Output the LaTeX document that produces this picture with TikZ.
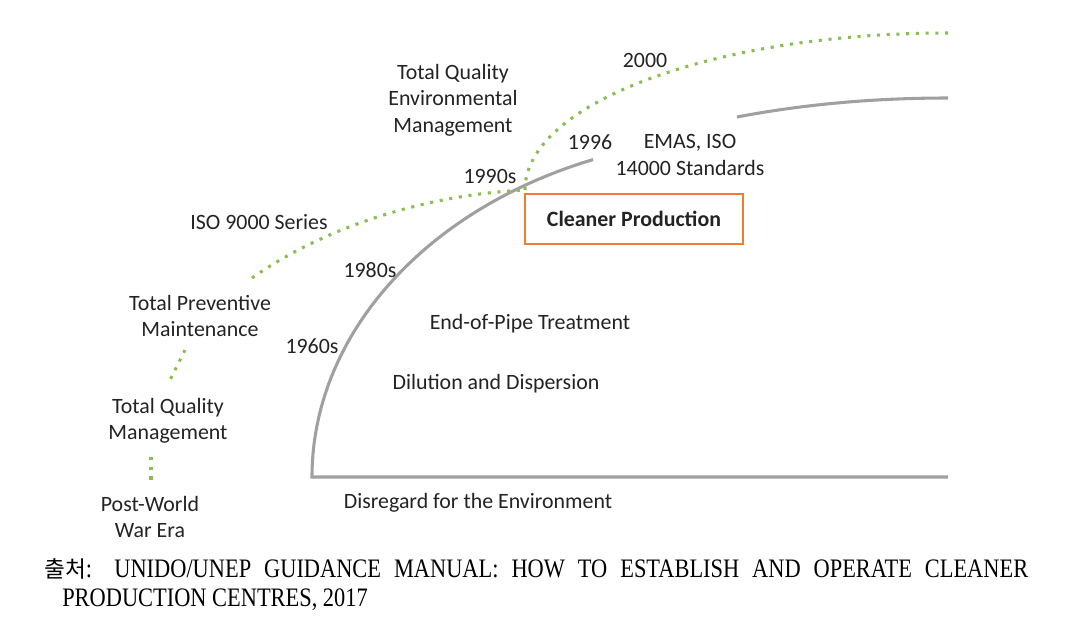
\documentclass[tikz,border=0pt]{standalone}
\usepackage{fontspec}
\setmainfont{Carlito}
\newfontfamily\capfont[FakeStretch=0.84]{Liberation Serif}
\newfontfamily\krfont{Noto Sans CJK KR}
\usepackage{tikz}
\usetikzlibrary{positioning}

\begin{document}
\begin{tikzpicture}[x=0.75pt, y=-0.75pt]
    \definecolor{linegray}{RGB}{160,160,160}
    \definecolor{dotgreen}{RGB}{137,190,80}
    \definecolor{boxorange}{RGB}{237,125,49}
    \definecolor{txtdark}{RGB}{35,35,35}
    \tikzset{
        lbl/.style={text=txtdark, font=\fontsize{16.4}{19.9}\selectfont, align=center, inner sep=0pt},
        greendots/.style={draw=dotgreen, line width=2.3pt, dash pattern=on 2.3pt off 5pt},
        grayline/.style={draw=linegray, line width=2.3pt}
    }
    \useasboundingbox (0,0) rectangle (1076,626);
    % environment curve and baseline
    \draw[grayline] (948,477) -- (312,477)
        arc[start angle=180, end angle=249, x radius=438, y radius=340];
    \draw[grayline] (737,117) .. controls (800,105) and (870,98) .. (948,98);
    % management curve (dotted)
    \draw[greendots] (252,278) .. controls (320,230) and (420,195) .. (525,190);
    \draw[greendots] (525,190) arc[start angle=180, end angle=270, x radius=423, y radius=157];
    \draw[greendots] (185,350) -- (169,382);
    \draw[greendots] (151,457) -- (151,480);
    % cleaner production box
    \node[draw=boxorange, line width=1.5pt, minimum width=163.5pt, minimum height=37.5pt,
        font=\fontsize{16.4}{19}\selectfont\bfseries, text=txtdark] (cp) at (634,219) {Cleaner Production};
    % years: x / y / label
    \foreach \x/\y/\lab in {645/60/2000, 590/142/1996, 490/176/1990s, 370/270/1980s, 312/346/1960s}{
        \node[lbl] (yr\lab) at (\x,\y) {\lab};
    }
    % management labels
    \node[lbl] (tqem) at (453,100) {Total Quality\\Environmental\\Management};
    \node[lbl] (iso9000) at (259,222) {ISO 9000 Series};
    \node[lbl] (tpm) at (200,316) {Total Preventive\\Maintenance};
    \node[lbl] (tqm) at (168,421) {Total Quality\\Management};
    \node[lbl] (postwar) at (150,517) {Post-World\\War Era};
    % environment labels
    \node[lbl] (emas) at (690,155) {EMAS, ISO\\14000 Standards};
    \node[lbl] (eop) at (530,324) {End-of-Pipe Treatment};
    \node[lbl] (dilution) at (496,384) {Dilution and Dispersion};
    \node[lbl] (disregard) at (478,503) {Disregard for the Environment};
    % source
    \node[anchor=base west, inner sep=0pt, font=\fontsize{20}{24}\capfont] (srcA) at (44,577)
        {\makebox[738pt][s]{{\krfont\fontsize{17}{20}\selectfont 출처}: UNIDO/UNEP GUIDANCE MANUAL: HOW TO ESTABLISH AND OPERATE CLEANER}};
    \node[anchor=base west, inner sep=0pt, font=\fontsize{20}{24}\capfont] (srcB) at (62,606)
        {PRODUCTION CENTRES, 2017};
\end{tikzpicture}
\end{document}
